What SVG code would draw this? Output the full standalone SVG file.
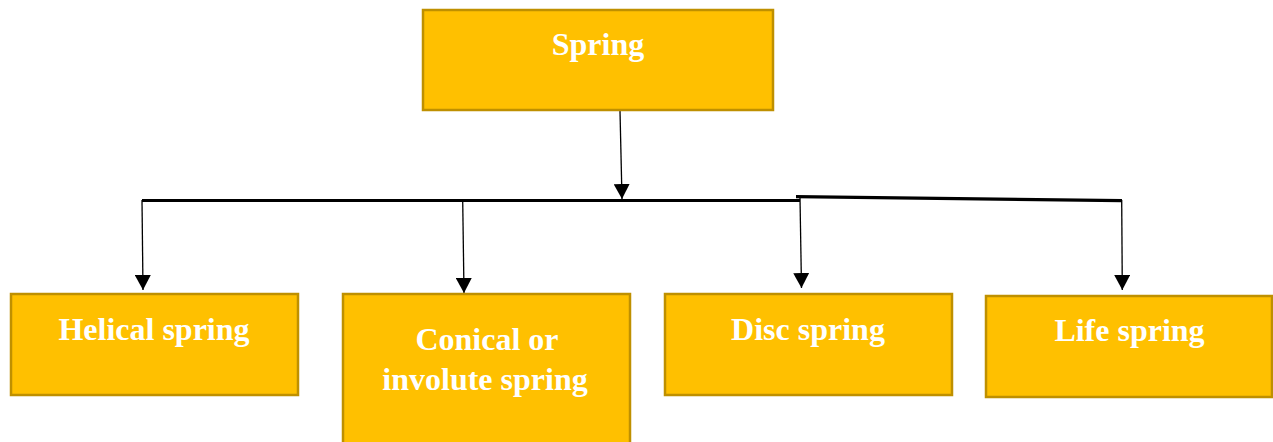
<svg xmlns="http://www.w3.org/2000/svg" width="1273" height="442" viewBox="0 0 1273 442">
<defs>
<style>
.box{fill:#FFC000;stroke:#BF9000;stroke-width:2.5}
.lbl{fill:#FFFFFF;font-family:"Liberation Serif","Times New Roman",serif;font-weight:bold;font-size:32px;text-anchor:middle}
.thin{stroke:#000;stroke-width:1.3;fill:none}
.bar{stroke:#000;stroke-width:3.2;fill:none}
</style>
<marker id="ah" viewBox="0 0 15 16" refX="15" refY="8" markerWidth="15" markerHeight="16" markerUnits="userSpaceOnUse" orient="auto">
<path d="M0,0 L15,8 L0,16 Z" fill="#000"/>
</marker>
</defs>
<rect width="1273" height="442" fill="#FFFFFF"/>
<g id="connectors">
<line class="thin" x1="620" y1="111" x2="622" y2="199" marker-end="url(#ah)"/>
<line class="bar" x1="142" y1="200.5" x2="800" y2="200.5"/>
<line class="bar" x1="796" y1="196.7" x2="1122" y2="200.7"/>
<line class="thin" x1="142" y1="200" x2="143" y2="290" marker-end="url(#ah)"/>
<line class="thin" x1="462.7" y1="200" x2="464" y2="293" marker-end="url(#ah)"/>
<line class="thin" x1="800" y1="198" x2="801.5" y2="288" marker-end="url(#ah)"/>
<line class="thin" x1="1121.7" y1="200" x2="1122.3" y2="290" marker-end="url(#ah)"/>
</g>
<g id="spring">
<rect class="box" x="423" y="10" width="350" height="100"/>
<text class="lbl" x="598" y="55">Spring</text>
</g>
<g id="helical">
<rect class="box" x="11" y="294" width="287" height="101"/>
<text class="lbl" x="154" y="340">Helical spring</text>
</g>
<g id="conical">
<rect class="box" x="343" y="294" width="287" height="160"/>
<text class="lbl" x="487" y="350">Conical or</text>
<text class="lbl" x="485" y="390">involute spring</text>
</g>
<g id="disc">
<rect class="box" x="665" y="294" width="287" height="101"/>
<text class="lbl" x="808" y="340">Disc spring</text>
</g>
<g id="life">
<rect class="box" x="986" y="296" width="286" height="101"/>
<text class="lbl" x="1129.5" y="341">Life spring</text>
</g>
</svg>
